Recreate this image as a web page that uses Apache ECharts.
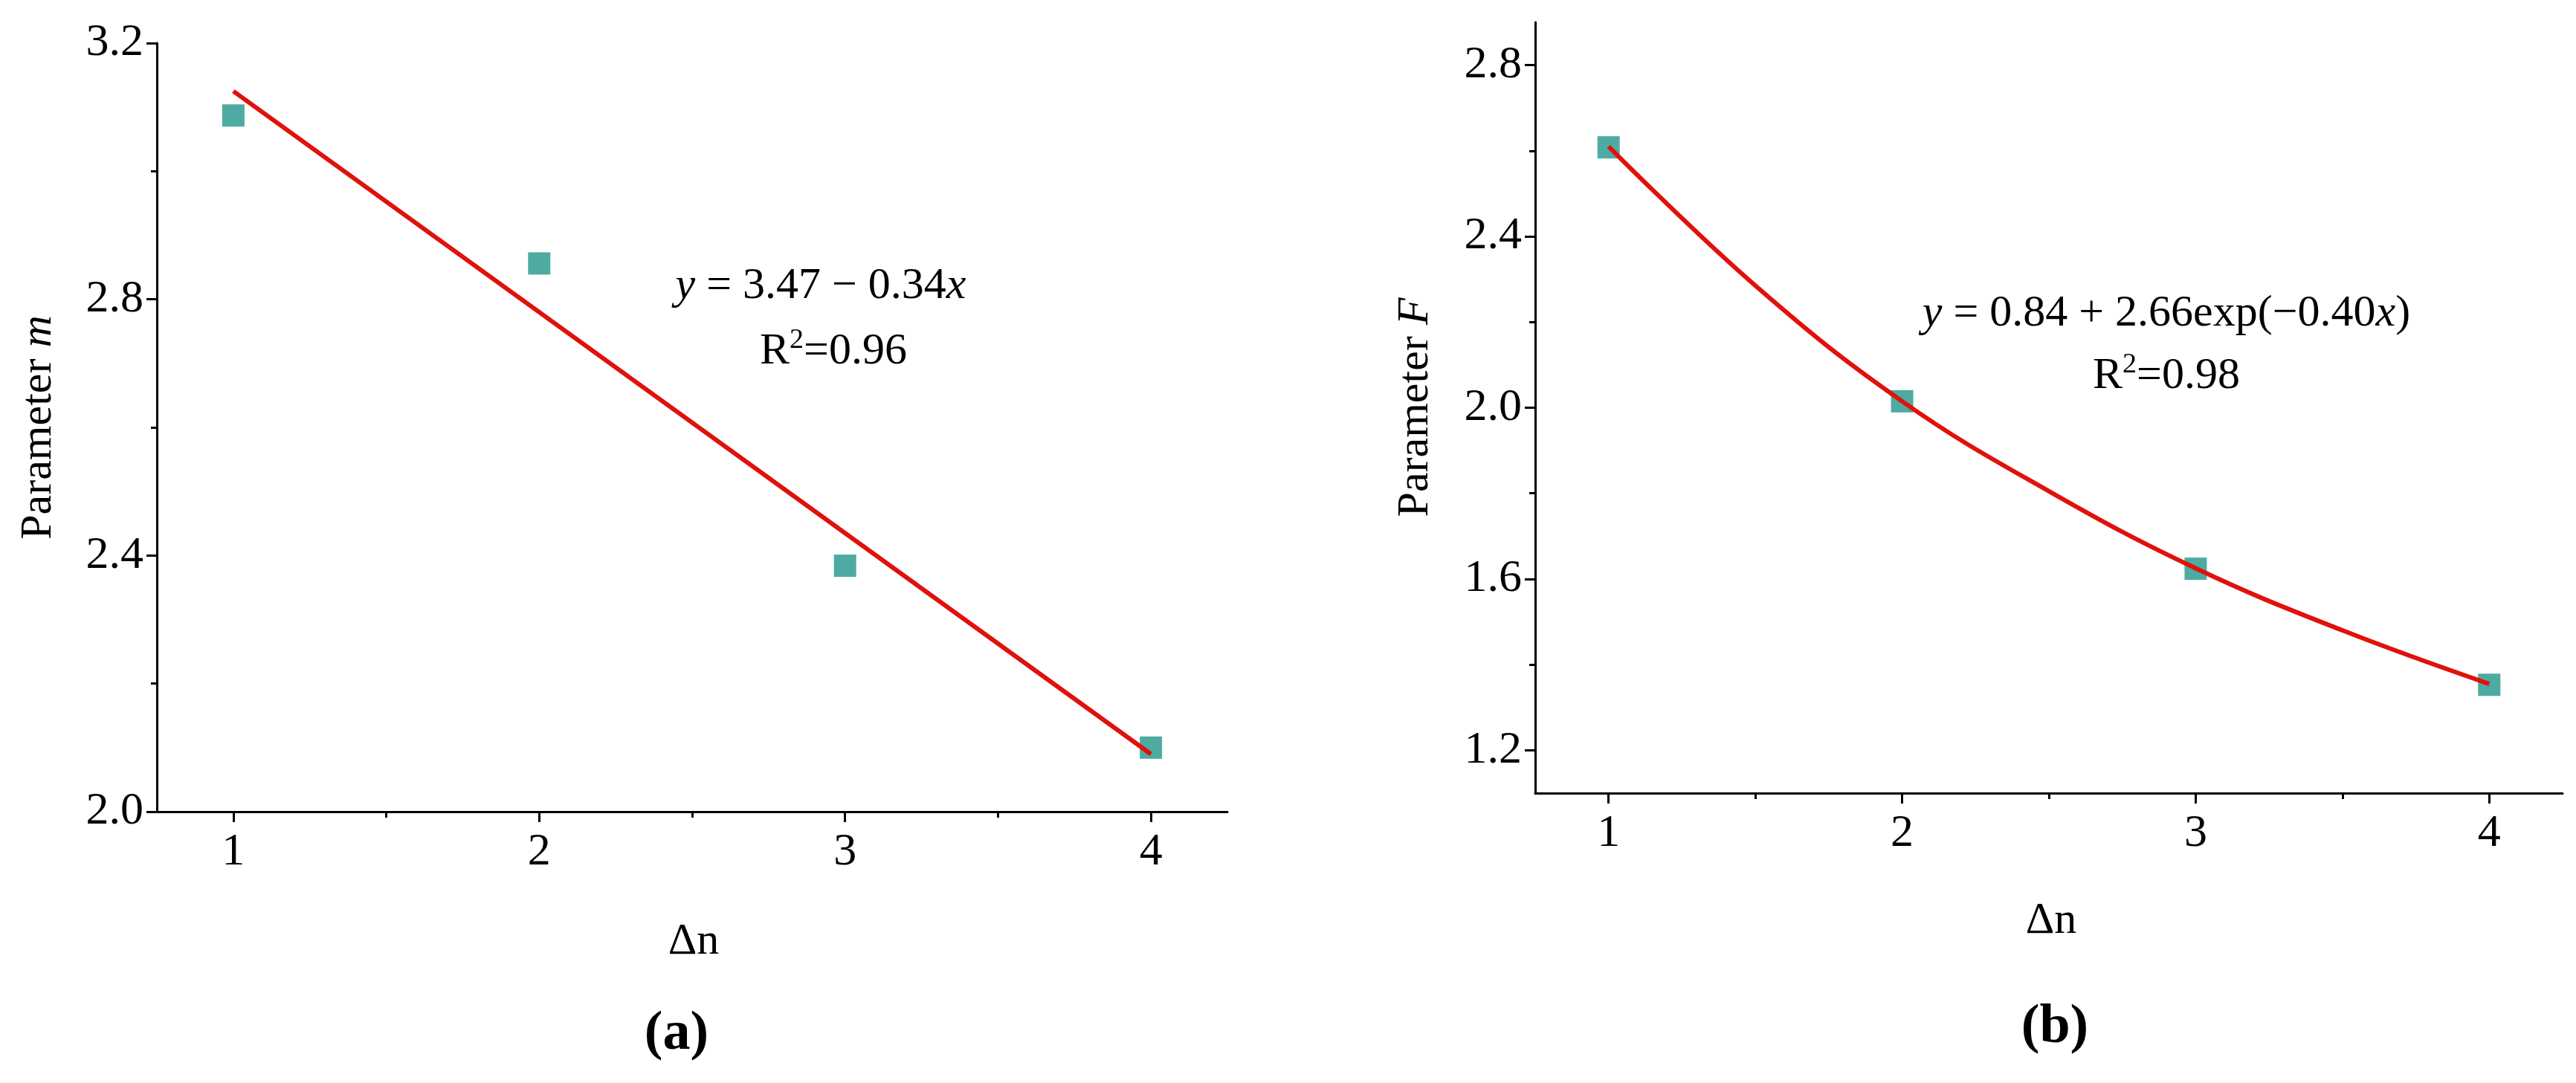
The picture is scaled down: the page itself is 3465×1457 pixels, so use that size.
<!DOCTYPE html>
<html>
<head>
<meta charset="utf-8">
<script src="https://cdn.jsdelivr.net/npm/echarts@6/dist/echarts.min.js"></script>
<style>html,body{margin:0;background:#fff}#main{width:3465px;height:1457px}</style>
</head>
<body>
<div id="main"></div>
<script>
// panel (a): parameter m vs Δn
const mPoints = [[1, 3.087], [2, 2.856], [3, 2.384], [4, 2.100]]
const mFit = [[1, 3.125], [4, 2.09]]
// panel (b): parameter F vs Δn
const fPoints = [[1, 2.608], [2, 2.015], [3, 1.624], [4, 1.353]]
const fFit = [[1, 2.61], [1.5, 2.285], [2, 2.015], [2.5, 1.805], [3, 1.625], [3.5, 1.48], [4, 1.355]]

const xMajor = [1, 2, 3, 4]
const xMinor = [1.5, 2.5, 3.5]
const mMajor = [2.0, 2.4, 2.8, 3.2]
const mMinor = [2.2, 2.6, 3.0]
const fMajor = [1.2, 1.6, 2.0, 2.4, 2.8]
const fMinor = [1.4, 1.8, 2.2, 2.6]

const FONT = '"Liberation Serif", "Times New Roman", serif'
const teal = '#22968a'
const red = '#e0110c'
const lineStyle = { color: '#000', width: 3 }

function xAxes(grid) {
  return [
    {
      type: 'value', gridIndex: grid, min: 0.75, max: 4.25,
      axisLine: { lineStyle }, splitLine: { show: false },
      axisTick: { customValues: xMajor, length: 14, lineStyle },
      axisLabel: { customValues: xMajor, fontFamily: FONT, fontSize: 62, color: '#000', margin: 24 }
    },
    {
      type: 'value', gridIndex: grid, min: 0.75, max: 4.25, position: 'bottom',
      axisLine: { show: false }, splitLine: { show: false },
      axisTick: { customValues: xMinor, length: 8, lineStyle },
      axisLabel: { show: false }
    }
  ]
}
function yAxes(grid, min, max, major, minor) {
  return [
    {
      type: 'value', gridIndex: grid, min, max,
      axisLine: { show: true, lineStyle }, splitLine: { show: false },
      axisTick: { customValues: major, length: 14, lineStyle },
      axisLabel: { customValues: major, fontFamily: FONT, fontSize: 62, color: '#000', margin: 18,
        formatter: v => v.toFixed(1) }
    },
    {
      type: 'value', gridIndex: grid, min, max, position: 'left',
      axisLine: { show: false }, splitLine: { show: false },
      axisTick: { customValues: minor, length: 8, lineStyle },
      axisLabel: { show: false }
    }
  ]
}

function txt(x, y, text, opts) {
  return {
    type: 'text', x, y, rotation: opts && opts.rotation || 0,
    style: Object.assign({
      text, fontFamily: FONT, fontSize: 60, fill: '#000', align: 'center', verticalAlign: 'middle',
      rich: {
        i: { fontFamily: FONT, fontSize: 60, fontStyle: 'italic' },
        n: { fontFamily: FONT, fontSize: 60 },
        s: { fontFamily: FONT, fontSize: 38, verticalAlign: 'top', padding: [0, 0, 30, 0] }
      }
    }, opts && opts.style)
  }
}

const chart = echarts.init(document.getElementById('main'))
chart.setOption({
  animation: false,
  textStyle: { fontFamily: FONT },
  grid: [
    { left: 211, top: 58, width: 1440, height: 1034 },
    { left: 2065, top: 30, width: 1382, height: 1037 }
  ],
  xAxis: [...xAxes(0), ...xAxes(1)],
  yAxis: [...yAxes(0, 2.0, 3.2, mMajor, mMinor), ...yAxes(1, 1.1, 2.9, fMajor, fMinor)],
  series: [
    { type: 'line', xAxisIndex: 0, yAxisIndex: 0, data: mFit, showSymbol: false,
      lineStyle: { color: red, width: 6 } },
    { type: 'scatter', xAxisIndex: 0, yAxisIndex: 0, data: mPoints, symbol: 'rect', symbolSize: 30,
      itemStyle: { color: teal } },
    { type: 'line', xAxisIndex: 2, yAxisIndex: 2, data: fFit, smooth: 0.4, showSymbol: false,
      lineStyle: { color: red, width: 6 } },
    { type: 'scatter', xAxisIndex: 2, yAxisIndex: 2, data: fPoints, symbol: 'rect', symbolSize: 30,
      itemStyle: { color: teal } }
  ],
  graphic: [
    txt(52, 575, '{n|Parameter }{i|m}', { rotation: Math.PI / 2 }),
    txt(933, 1267, 'Δn'),
    txt(910, 1392, '(a)', { style: { fontWeight: 'bold', fontSize: 74 } }),
    txt(1104, 385, '{i|y}{n| = 3.47 − 0.34}{i|x}'),
    txt(1121, 473, '{n|R}{s|2}{n|=0.96}'),
    txt(1904, 548, '{n|Parameter }{i|F}', { rotation: Math.PI / 2 }),
    txt(2759, 1239, 'Δn'),
    txt(2764, 1383, '(b)', { style: { fontWeight: 'bold', fontSize: 74 } }),
    txt(2914, 422, '{i|y}{n| = 0.84 + 2.66exp(−0.40}{i|x}{n|)}'),
    txt(2914, 506, '{n|R}{s|2}{n|=0.98}')
  ]
})
</script>
</body>
</html>
